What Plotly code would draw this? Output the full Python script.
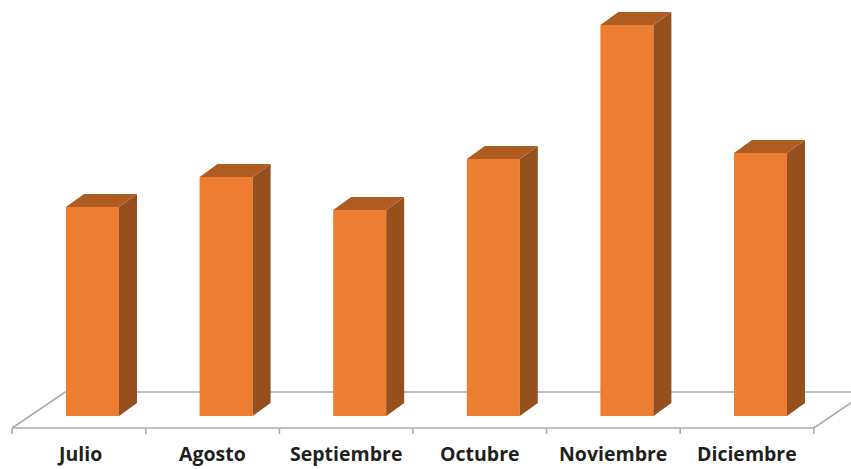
import plotly.graph_objects as go

months = ["Julio", "Agosto", "Septiembre", "Octubre", "Noviembre", "Diciembre"]
values = [209, 239, 206, 257, 391, 263]

FRONT, TOP, SIDE = "#ED7D31", "#AE5C22", "#95501E"
AXIS = "#ABABAB"
X_UNIT = 133.6          # pixels per category
BAR_W = 53 / X_UNIT
DX, DY = 18 / X_UNIT, 13
LABEL_SHIFT = 13.5 / X_UNIT
FRONT_Y, BACK_Y = -12, 24
FLOOR_DX = 53 / X_UNIT

idx = list(range(len(months)))
fig = go.Figure()
fig.add_trace(go.Bar(x=idx, y=values, width=BAR_W, marker=dict(color=FRONT, line=dict(width=0)),
                     hoverinfo="x+y", showlegend=False))

for i, v in zip(idx, values):
    l, r = i - BAR_W / 2, i + BAR_W / 2
    fig.add_trace(go.Scatter(x=[r, r + DX, r + DX, r, r], y=[0, DY, v + DY, v, 0], mode="lines",
                             fill="toself", fillcolor=SIDE, line=dict(width=0), hoverinfo="skip", showlegend=False))
    fig.add_trace(go.Scatter(x=[l, l + DX, r + DX, r, l], y=[v, v + DY, v + DY, v, v], mode="lines",
                             fill="toself", fillcolor=TOP, line=dict(width=0), hoverinfo="skip", showlegend=False))

x0 = -0.5 - LABEL_SHIFT
x1 = len(months) - 0.5 - LABEL_SHIFT
line = dict(color=AXIS, width=1.6)
shapes = [
    dict(type="line", layer="below", x0=x0, x1=x1, y0=FRONT_Y, y1=FRONT_Y, line=line),
    dict(type="line", layer="below", x0=x0 + FLOOR_DX, x1=x1 + FLOOR_DX, y0=BACK_Y, y1=BACK_Y, line=line),
    dict(type="line", layer="below", x0=x0, x1=x0 + FLOOR_DX, y0=FRONT_Y, y1=BACK_Y, line=line),
    dict(type="line", layer="below", x0=x1, x1=x1 + FLOOR_DX, y0=FRONT_Y, y1=BACK_Y, line=line),
]
for k in range(len(months) + 1):
    xk = x0 + k
    shapes.append(dict(type="line", layer="below", x0=xk, x1=xk, y0=FRONT_Y, y1=FRONT_Y - 6, line=line))

fig.update_layout(
    width=851, height=469, margin=dict(l=0, r=0, t=0, b=0),
    paper_bgcolor="white", plot_bgcolor="white", shapes=shapes, showlegend=False,
    xaxis=dict(range=[-92.5 / X_UNIT, (851 - 92.5) / X_UNIT], showgrid=False, zeroline=False, showline=False,
               tickmode="array", tickvals=[i - LABEL_SHIFT for i in idx], ticktext=months, ticks="",
               showticklabels=False),
    yaxis=dict(range=[-53, 416], visible=False),
)
for i, m in zip(idx, months):
    fig.add_annotation(x=i - LABEL_SHIFT, y=-37.5, text=f"<b>{m}</b>", showarrow=False,
                       font=dict(family="Open Sans", size=19.5, color="#1F1F1F"))

fig.write_html("out.html", config={"displayModeBar": False},
               post_script="document.body.style.margin='0';document.body.style.overflow='hidden';")
